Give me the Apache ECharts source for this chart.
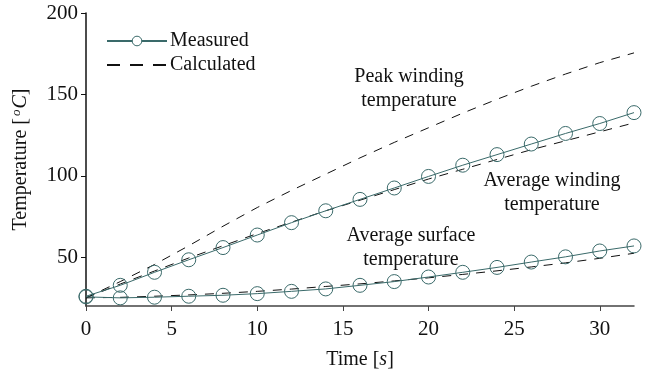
<!DOCTYPE html>
<html>
<head>
<meta charset="utf-8">
<script src="https://cdn.jsdelivr.net/npm/echarts@6/dist/echarts.min.js"></script>
<style>
  html, body { margin: 0; padding: 0; background: #fff; }
  #chart { width: 654px; height: 375px; }
</style>
</head>
<body>
<div id="chart"></div>
<script>
// time in seconds, one sample every 2 s
const timeS = [0, 2, 4, 6, 8, 10, 12, 14, 16, 18, 20, 22, 24, 26, 28, 30, 32];

// measured temperatures (deg C)
const measWinding = [26, 32.7, 40.7, 48.4, 55.9, 63.6, 71.2, 78.5, 85.5, 92.5, 99.6, 106.5, 113, 119.5, 126, 132.1, 138.8];
const measSurface = [25.6, 25, 25.4, 26, 26.6, 27.6, 29, 30.5, 32.7, 35, 37.8, 40.7, 43.7, 47, 50.2, 53.8, 56.9];

// calculated temperatures (deg C)
const calcPeak = [25, 35, 45.5, 57, 69, 80.5, 91, 101, 111, 120.5, 129.5, 138.5, 147, 155, 162.5, 169.5, 175.5];
const calcWinding = [25, 33.5, 41.5, 49.5, 57, 64.5, 71.5, 78.5, 85, 91.5, 98, 104, 110, 116, 121.5, 127, 132.5];
const calcSurface = [25, 25.3, 26, 26.8, 27.8, 29, 30.4, 32, 33.6, 35.4, 37.3, 39.4, 41.6, 44, 46.5, 49.3, 52.4];

const xTicks = [0, 5, 10, 15, 20, 25, 30];
const yTicks = [50, 100, 150, 200];

const FONT = 'Liberation Serif';
const TEAL = '#3a6a6a';

const pairs = (ys) => timeS.map((t, i) => [t, ys[i]]);

const measuredSeries = (ys) => ({
    name: 'Measured',
    type: 'line',
    data: pairs(ys),
    symbol: 'circle',
    symbolSize: 14,
    showAllSymbol: true,
    lineStyle: { color: TEAL, width: 1 },
    itemStyle: { color: 'rgba(0,0,0,0)', borderColor: TEAL, borderWidth: 1 },
    z: 3,
});

const calculatedSeries = (ys) => ({
    name: 'Calculated',
    type: 'line',
    data: pairs(ys),
    symbol: 'none',
    lineStyle: { color: '#111', width: 1, type: [9, 8] },
    itemStyle: { color: 'rgba(0,0,0,0)', borderWidth: 0 },
    z: 2,
});

const chart = echarts.init(document.getElementById('chart'), null, { renderer: 'canvas' });

const label = (lines, x, y) => ({
    type: 'text',
    x: x,
    y: y,
    style: {
        text: lines.join('\n'),
        font: '20px "' + FONT + '"',
        fill: '#111',
        align: 'center',
        verticalAlign: 'middle',
        lineHeight: 24,
    },
});

chart.setOption({
    backgroundColor: '#fff',
    animation: false,
    grid: { left: 86, right: 20, top: 13, bottom: 66 },
    legend: {
        left: 101,
        top: 26,
        orient: 'vertical',
        itemWidth: 60,
        itemHeight: 12,
        itemGap: 4,
        data: [
            { name: 'Measured', itemStyle: { color: '#fff', borderColor: TEAL, borderWidth: 1 } },
            { name: 'Calculated', lineStyle: { type: [13, 10] } },
        ],
        textStyle: { fontFamily: FONT, fontSize: 20, color: '#111', padding: [0, 0, 0, -2] },
    },
    xAxis: {
        type: 'value',
        min: 0,
        max: 32,
        interval: 5,
        name: '{a|Time [}{i|s}{a|]}',
        nameLocation: 'middle',
        nameGap: 44,
        nameTextStyle: {
            rich: {
                a: { fontFamily: FONT, fontSize: 20, color: '#111' },
                i: { fontFamily: FONT, fontSize: 20, fontStyle: 'italic', color: '#111' },
            },
        },
        axisLine: { lineStyle: { color: '#444', width: 1.5 } },
        axisTick: { show: true, length: 5, lineStyle: { color: '#444' }, customValues: xTicks },
        axisLabel: { fontFamily: FONT, fontSize: 21, color: '#111', margin: 13, customValues: xTicks },
        splitLine: { show: false },
    },
    yAxis: {
        type: 'value',
        min: 20,
        max: 200,
        name: '{a|Temperature [}{s|o}{i|C}{a|]}',
        nameLocation: 'middle',
        nameGap: 55,
        nameTextStyle: {
            rich: {
                a: { fontFamily: FONT, fontSize: 20, color: '#111' },
                i: { fontFamily: FONT, fontSize: 20, fontStyle: 'italic', color: '#111' },
                s: { fontFamily: FONT, fontSize: 13, fontStyle: 'italic', color: '#111', verticalAlign: 'top', padding: [0, 1, 8, 2] },
            },
        },
        axisLine: { show: true, lineStyle: { color: '#111', width: 1.5 } },
        axisTick: { show: true, length: 5, lineStyle: { color: '#111' }, customValues: yTicks },
        axisLabel: { fontFamily: FONT, fontSize: 21, color: '#111', margin: 8, customValues: yTicks },
        splitLine: { show: false },
    },
    graphic: [
        label(['Peak winding', 'temperature'], 409, 89),
        label(['Average winding', 'temperature'], 552, 193),
        label(['Average surface', 'temperature'], 411, 248),
    ],
    series: [
        calculatedSeries(calcPeak),
        calculatedSeries(calcWinding),
        calculatedSeries(calcSurface),
        measuredSeries(measWinding),
        measuredSeries(measSurface),
    ],
});
</script>
</body>
</html>
